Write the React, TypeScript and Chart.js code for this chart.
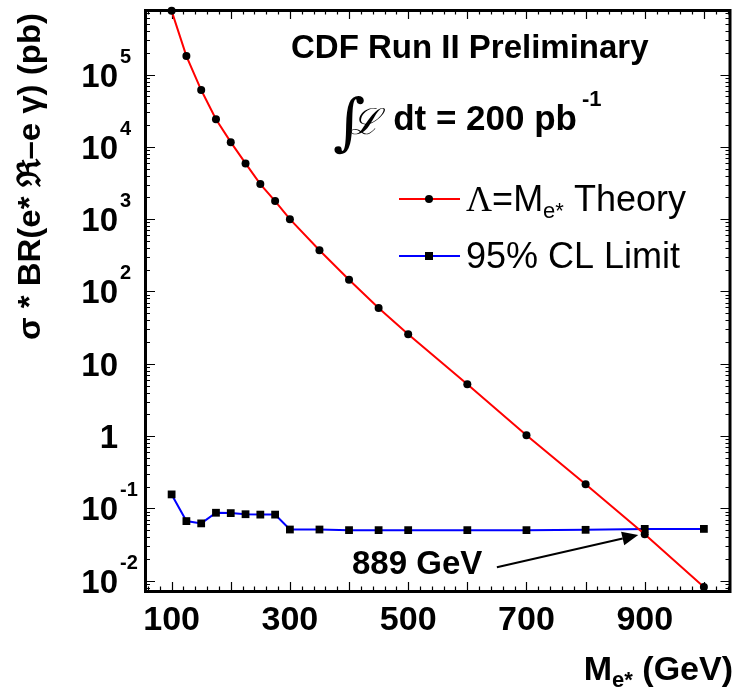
import React, { useEffect, useRef } from "react";
import { Chart, registerables } from "chart.js";

Chart.register(...registerables);

// Excited electron mass points (GeV)
const massGeV = [100, 125, 150, 175, 200, 225, 250, 275, 300, 350, 400, 450, 500, 600, 700, 800, 900, 1000];
// Λ = M_e* theory cross section × BR (pb)
const theoryXsec = [7.6e5, 1.8e5, 6.1e4, 2.4e4, 1.16e4, 5.9e3, 3.05e3, 1.78e3, 1.0e3, 372, 145, 59, 25.6, 5.2, 1.03, 0.215, 0.044, 0.0082];
// 95% CL upper limit (pb)
const limitXsec = [0.156, 0.0667, 0.062, 0.087, 0.086, 0.083, 0.082, 0.082, 0.051, 0.051, 0.05, 0.05, 0.05, 0.05, 0.05, 0.0505, 0.052, 0.052];

const xTickLabels = [100, 300, 500, 700, 900];
const yDecades = [-2, -1, 0, 1, 2, 3, 4, 5];
const massRange = [55, 1045];
const xsecRange = [0.0072, 7.8e5];
const crossingMass = 889;

const SANS = '"Liberation Sans", Arial, Helvetica, sans-serif';
const SERIF = '"Liberation Serif", "DejaVu Serif", serif';

function put(
  ctx: CanvasRenderingContext2D,
  s: string,
  x: number,
  y: number,
  font: string,
  align: "left" | "right" | "center" = "left",
  width?: number
): number {
  ctx.save();
  ctx.font = font;
  ctx.textAlign = "left";
  ctx.textBaseline = "alphabetic";
  const w = ctx.measureText(s).width;
  const sx = width ? width / w : 1;
  const x0 = align === "left" ? x : align === "right" ? x - w * sx : x - (w * sx) / 2;
  ctx.translate(x0, y);
  ctx.scale(sx, 1);
  ctx.fillStyle = "#000";
  ctx.fillText(s, 0, 0);
  ctx.restore();
  return w * sx;
}

function measure(ctx: CanvasRenderingContext2D, s: string, font: string): number {
  ctx.save();
  ctx.font = font;
  const w = ctx.measureText(s).width;
  ctx.restore();
  return w;
}

const rootStyle = {
  id: "rootStyle",
  beforeDatasetsDraw(chart: any) {
    const ctx: CanvasRenderingContext2D = chart.ctx;
    const a = chart.chartArea;
    const xs = chart.scales.x;
    const ys = chart.scales.y;
    ctx.save();
    ctx.strokeStyle = "#000";
    ctx.lineWidth = 1.2;
    ctx.beginPath();
    // x ticks (bottom and top, pointing inwards)
    for (let m = 60; m <= 1040; m += 20) {
      const px = Math.round(xs.getPixelForValue(m)) + 0.5;
      const len = m % 100 === 0 ? 9 : 4.5;
      ctx.moveTo(px, a.bottom);
      ctx.lineTo(px, a.bottom - len);
      ctx.moveTo(px, a.top);
      ctx.lineTo(px, a.top + len);
    }
    // y ticks (left and right)
    for (let d = -3; d <= 5; d++) {
      for (let k = 1; k <= 9; k++) {
        const v = k * Math.pow(10, d);
        if (v < xsecRange[0] || v > xsecRange[1]) continue;
        const py = Math.round(ys.getPixelForValue(v)) + 0.5;
        const len = k === 1 ? 10 : 5;
        ctx.moveTo(a.left, py);
        ctx.lineTo(a.left + len, py);
        ctx.moveTo(a.right, py);
        ctx.lineTo(a.right - len, py);
      }
    }
    ctx.stroke();
    // frame
    ctx.lineWidth = 3;
    ctx.strokeRect(a.left + 0.5, a.top + 0.5, a.right - a.left - 1, a.bottom - a.top);
    ctx.restore();
  },
  afterDatasetsDraw(chart: any) {
    const ctx: CanvasRenderingContext2D = chart.ctx;
    const xs = chart.scales.x;
    const ys = chart.scales.y;

    // arrow pointing at the crossing mass
    const tx = xs.getPixelForValue(crossingMass);
    const ty = ys.getPixelForValue(0.043);
    const sx = xs.getPixelForValue(650);
    const sy = ys.getPixelForValue(0.0153);
    const ang = Math.atan2(ty - sy, tx - sx);
    const headLen = 16;
    const headHalf = 7;
    const bx = tx - headLen * Math.cos(ang);
    const by = ty - headLen * Math.sin(ang);
    ctx.save();
    ctx.strokeStyle = "#000";
    ctx.fillStyle = "#000";
    ctx.lineWidth = 2;
    ctx.beginPath();
    ctx.moveTo(sx, sy);
    ctx.lineTo(bx, by);
    ctx.stroke();
    ctx.beginPath();
    ctx.moveTo(tx, ty);
    ctx.lineTo(bx + headHalf * Math.sin(ang), by - headHalf * Math.cos(ang));
    ctx.lineTo(bx - headHalf * Math.sin(ang), by + headHalf * Math.cos(ang));
    ctx.closePath();
    ctx.fill();
    ctx.restore();

    put(ctx, `${crossingMass} GeV`, 352, 574, `bold 33px ${SANS}`);
  },
  afterDraw(chart: any) {
    const ctx: CanvasRenderingContext2D = chart.ctx;
    const xs = chart.scales.x;
    const ys = chart.scales.y;

    // y tick labels
    for (const d of yDecades) {
      const py = ys.getPixelForValue(Math.pow(10, d));
      const base = py + 12;
      if (d === 0) {
        put(ctx, "1", 118, base, `bold 33px ${SANS}`, "right");
      } else if (d === 1) {
        put(ctx, "10", 118, base, `bold 33px ${SANS}`, "right");
      } else {
        put(ctx, "10", 118, base, `bold 33px ${SANS}`, "right");
        put(ctx, String(d), 120, py - 12, `bold 20px ${SANS}`);
      }
    }

    // x tick labels
    for (const m of xTickLabels) {
      put(ctx, String(m), xs.getPixelForValue(m), 630, `bold 34px ${SANS}`, "center");
    }

    // x-axis title: M_e* (GeV), right-aligned at the frame edge
    {
      const f1 = `bold 34px ${SANS}`;
      const f2 = `bold 22px ${SANS}`;
      const total = measure(ctx, "M", f1) + measure(ctx, "e*", f2) + measure(ctx, " (GeV)", f1);
      let x = 733 - total;
      x += put(ctx, "M", x, 680, f1);
      x += put(ctx, "e*", x, 687, f2);
      put(ctx, " (GeV)", x, 680, f1);
    }

    // y-axis title, rotated, right-aligned at the top
    ctx.save();
    ctx.translate(40, 13);
    ctx.rotate(-Math.PI / 2);
    put(ctx, "σ * BR(e* ℜ–e γ) (pb)", 0, 0, `bold 32px ${SANS}`, "right", 327);
    ctx.restore();

    // header text
    put(ctx, "CDF Run II Preliminary", 291, 58, `bold 33px ${SANS}`);
    put(ctx, "∫", 333, 143, `italic 62px "DejaVu Serif", serif`);
    put(ctx, "ℒ", 350, 134, `italic 36px "DejaVu Serif", serif`);
    put(ctx, "dt = 200 pb", 577, 130, `bold 35px ${SANS}`, "right");
    put(ctx, "-1", 582, 106, `bold 22px ${SANS}`);

    // legend
    ctx.save();
    ctx.lineWidth = 2;
    ctx.strokeStyle = "#ff0000";
    ctx.beginPath();
    ctx.moveTo(399, 199);
    ctx.lineTo(460, 199);
    ctx.stroke();
    ctx.fillStyle = "#000";
    ctx.beginPath();
    ctx.arc(429, 199, 4, 0, Math.PI * 2);
    ctx.fill();
    ctx.strokeStyle = "#0000ff";
    ctx.beginPath();
    ctx.moveTo(399, 256);
    ctx.lineTo(460, 256);
    ctx.stroke();
    ctx.fillRect(425, 252, 8, 8);
    ctx.restore();

    {
      let x = 466;
      x += put(ctx, "Λ", x, 211, `36px ${SERIF}`);
      x += put(ctx, "=M", x, 211, `36px ${SANS}`);
      x += put(ctx, "e*", x, 218, `22px ${SANS}`);
      put(ctx, " Theory", x, 211, `36px ${SANS}`);
    }
    put(ctx, "95% CL Limit", 466, 268, `36px ${SANS}`);
  },
};

export default function App() {
  const ref = useRef<HTMLCanvasElement>(null);

  useEffect(() => {
    const canvas = ref.current;
    if (!canvas) return;
    const chart = new Chart(canvas, {
      type: "line",
      data: {
        datasets: [
          {
            label: "Λ=Me* Theory",
            data: massGeV.map((m, i) => ({ x: m, y: theoryXsec[i] })),
            borderColor: "#ff0000",
            borderWidth: 2,
            pointRadius: 4,
            pointBackgroundColor: "#000",
            pointBorderWidth: 0,
            tension: 0,
            clip: false,
          } as any,
          {
            label: "95% CL Limit",
            data: massGeV.map((m, i) => ({ x: m, y: limitXsec[i] })),
            borderColor: "#0000ff",
            borderWidth: 2,
            pointStyle: "rect",
            pointRadius: 5.5,
            pointBackgroundColor: "#000",
            pointBorderWidth: 0,
            tension: 0,
            clip: false,
          } as any,
        ],
      },
      options: {
        responsive: false,
        animation: false,
        devicePixelRatio: 1,
        events: [],
        layout: { padding: { left: 145, right: 1, top: 10, bottom: 96 } },
        plugins: { legend: { display: false }, tooltip: { enabled: false } },
        scales: {
          x: { type: "linear", min: massRange[0], max: massRange[1], display: false },
          y: { type: "logarithmic", min: xsecRange[0], max: xsecRange[1], display: false },
        },
      },
      plugins: [rootStyle],
    });
    return () => chart.destroy();
  }, []);

  return (
    <div style={{ position: "fixed", left: 0, top: 0, width: 736, height: 687, background: "#fff" }}>
      <canvas ref={ref} width={736} height={687} style={{ display: "block", width: 736, height: 687 }} />
    </div>
  );
}
